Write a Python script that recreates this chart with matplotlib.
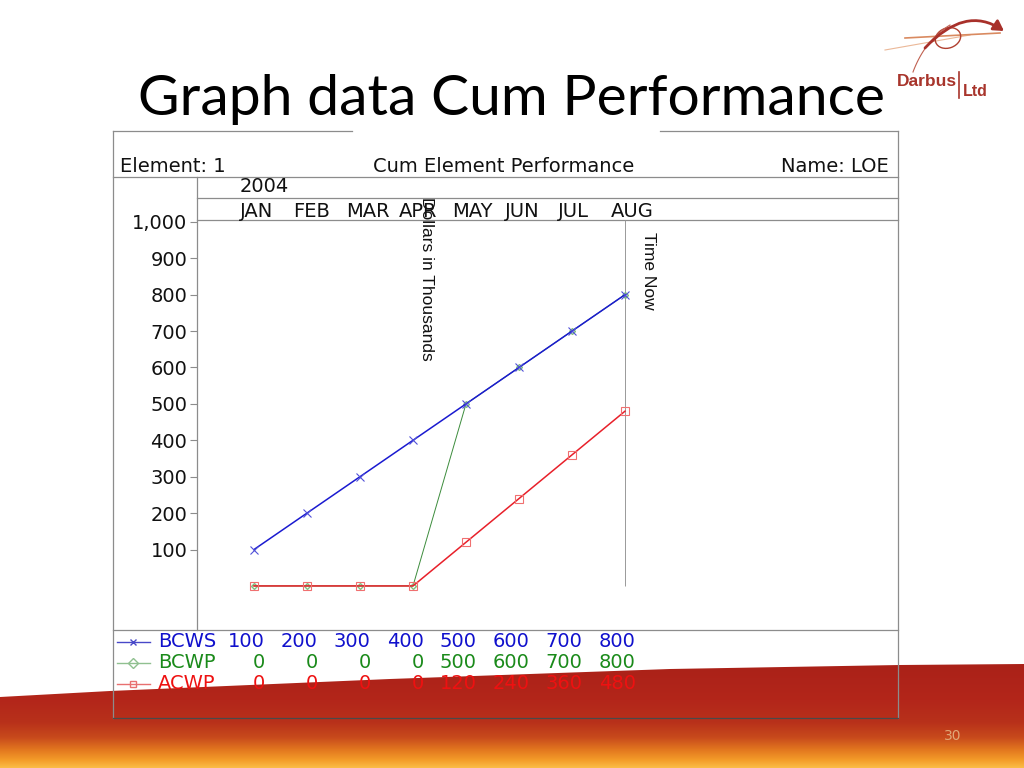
import numpy as np
import matplotlib
matplotlib.use("Agg")
import matplotlib.pyplot as plt
from matplotlib.patches import Polygon, Ellipse, FancyArrowPatch
from matplotlib.path import Path
from matplotlib.transforms import blended_transform_factory
from matplotlib.colors import to_rgb

# chart data
months = ['JAN', 'FEB', 'MAR', 'APR', 'MAY', 'JUN', 'JUL', 'AUG']
bcws = [100, 200, 300, 400, 500, 600, 700, 800]
bcwp = [0, 0, 0, 0, 500, 600, 700, 800]
acwp = [0, 0, 0, 0, 120, 240, 360, 480]
yticks = [100, 200, 300, 400, 500, 600, 700, 800, 900, 1000]

FONT = ['DejaVu Sans']
NARROW = ['Liberation Sans']

fig = plt.figure(figsize=(10.24, 7.68), dpi=100)

# background axes in pixel coordinates of the slide
bg = fig.add_axes([0, 0, 1, 1])
bg.set_xlim(0, 1024)
bg.set_ylim(768, 0)
bg.axis('off')

# orange / red swoosh at the bottom of the slide
stops_y = [655, 700, 722, 737, 749, 759, 768]
stops_c = ['#a82018', '#b3261a', '#b8311a', '#c84a1c', '#e2761f', '#f39a28', '#fbc04a']
ys = np.arange(768)
rgb = np.array([to_rgb(c) for c in stops_c])
grad = np.stack([np.interp(ys, stops_y, rgb[:, k]) for k in range(3)], axis=1)
img = np.repeat(grad[:, None, :], 4, axis=1)
im = bg.imshow(img, extent=[0, 1024, 768, 0], aspect='auto', zorder=0)
edge_x = [0, 110, 390, 670, 900, 1024, 1024, 0]
edge_y = [697, 691, 679, 669, 665, 664, 768, 768]
clip = Polygon(list(zip(edge_x, edge_y)), closed=True, transform=bg.transData)
im.set_clip_path(clip)
bg.text(953, 736, '30', color='#e0a878', fontsize=10, ha='center', va='center', zorder=1)

# slide title
bg.text(511, 115, 'Graph data Cum Performance', fontsize=41, family=['Lato', 'DejaVu Sans'],
        ha='center', va='baseline', color='black', zorder=3)

# logo
logo_c = '#a8352c'
bg.text(897, 86, 'Darbus', fontsize=12.5, fontweight='bold', family=['Liberation Sans'],
        color=logo_c, va='baseline', zorder=3)
bg.plot([959, 959], [72, 98], color=logo_c, lw=1.2, zorder=3)
bg.text(963, 96, 'Ltd', fontsize=11.5, fontweight='bold', family=['Liberation Sans'],
        color=logo_c, va='baseline', zorder=3)
bg.plot([885, 970], [50, 35], color='#ebb898', lw=0.8, zorder=3)
bg.plot([905, 1000], [38, 33], color='#d98a60', lw=1.2, zorder=3)
bg.add_patch(Ellipse((948, 38), 26, 20, angle=-20, fill=False, ec='#b04030', lw=1, zorder=3))
t = np.linspace(0, 1, 50)
bx = (1 - t) ** 2 * 950 + 2 * (1 - t) * t * 925 + t ** 2 * 913
by = (1 - t) ** 2 * 25 + 2 * (1 - t) * t * 40 + t ** 2 * 72
bg.plot(bx, by, color='#c06050', lw=0.8, zorder=3)
arc = Path([(925, 48), (965, 5), (1004, 31)], [Path.MOVETO, Path.CURVE3, Path.CURVE3])
bg.add_patch(FancyArrowPatch(path=arc, arrowstyle='-|>,head_length=6,head_width=3.5',
                             color='#a8302a', lw=2, zorder=3))

# chart frame
box_c = '#8c8c8c'
lw = 0.9
bg.plot([113, 352], [131, 131], color=box_c, lw=lw, zorder=2)
bg.plot([660, 898], [131, 131], color=box_c, lw=lw, zorder=2)
bg.plot([113, 113], [131, 718], color=box_c, lw=lw, zorder=2)
bg.plot([898, 898], [131, 718], color=box_c, lw=lw, zorder=2)
bg.plot([113, 898], [718, 718], color='#4a4a4a', lw=lw, zorder=2)
bg.plot([113, 898], [177, 177], color=box_c, lw=lw, zorder=2)
bg.plot([197, 898], [198, 198], color=box_c, lw=lw, zorder=2)
bg.plot([197, 898], [220, 220], color=box_c, lw=lw, zorder=2)
bg.plot([197, 197], [177, 630], color=box_c, lw=lw, zorder=2)
bg.plot([113, 898], [630, 630], color=box_c, lw=lw, zorder=2)

# header texts
hdr = dict(fontsize=14, family=FONT, color='#111111', va='baseline', zorder=3)
bg.text(120, 172, 'Element: 1', ha='left', **hdr)
bg.text(504, 172, 'Cum Element Performance', ha='center', **hdr)
bg.text(889, 172, 'Name: LOE', ha='right', **hdr)
bg.text(240, 192, '2004', ha='left', **hdr)

# plot area
ax = fig.add_axes([197 / 1024, 1 - 630 / 768, (898 - 197) / 1024, (630 - 220) / 768])
ax.patch.set_visible(False)
x = np.arange(len(months))
ax.set_xlim(-1.075, 12.15)
ax.set_ylim(-121, 1005)
for s in ax.spines.values():
    s.set_visible(False)
ax.set_xticks([])
ax.set_yticks(yticks)
ax.set_yticklabels([f'{v:,}' for v in yticks], fontsize=14, family=FONT, color='#111111')
ax.tick_params(axis='y', length=5, width=0.8, color=box_c, pad=2)

ax.vlines(x[-1], 0, 1005, color='#999999', lw=0.7)
ax.plot(x, bcwp, color='#3c8c3c', lw=0.7, marker='D', ms=3, mfc='none', mec='#7fbf7f')
ax.plot(x, acwp, color='#e8202a', lw=1.1, marker='s', ms=6, mfc='none', mec='#f07070', mew=0.8)
ax.plot(x, bcws, color='#1a1ad0', lw=1.1, marker='x', ms=6, mec='#5050d8', mew=0.8)

# month labels over the plot
tr = blended_transform_factory(ax.transData, bg.transData)
for i, m in enumerate(months):
    bg.text(i - 0.26, 217, m, transform=tr, ha='left', **hdr)

bg.text(427, 197, 'Dollars in Thousands', rotation=270, ha='center', va='top',
        fontsize=12.5, family=NARROW, color='#111111', zorder=3)
bg.text(648, 232, 'Time Now', rotation=270, ha='center', va='top',
        fontsize=12.5, family=NARROW, color='#111111', zorder=3)

# data table / legend under the chart
rows = [('BCWS', bcws, '#1010cc', '#4848c8', 'x', 647),
        ('BCWP', bcwp, '#1a8a1a', '#90c090', 'D', 668),
        ('ACWP', acwp, '#ee1111', '#e87070', 's', 689)]
for name, vals, tc, lc, mk, yb in rows:
    ly = yb - 5
    bg.plot([117, 133, 150], [ly, ly, ly], color=lc, lw=1, marker=mk, ms=5,
            mfc='none', markevery=[1], zorder=3)
    bg.text(158, yb, name, color=tc, fontsize=14, family=FONT, va='baseline', zorder=3)
    for i, v in enumerate(vals):
        bg.text(i + 0.2, yb, str(v), transform=tr, color=tc, fontsize=14, family=FONT,
                ha='right', va='baseline', zorder=3)

fig.savefig('out.png', dpi=100)
